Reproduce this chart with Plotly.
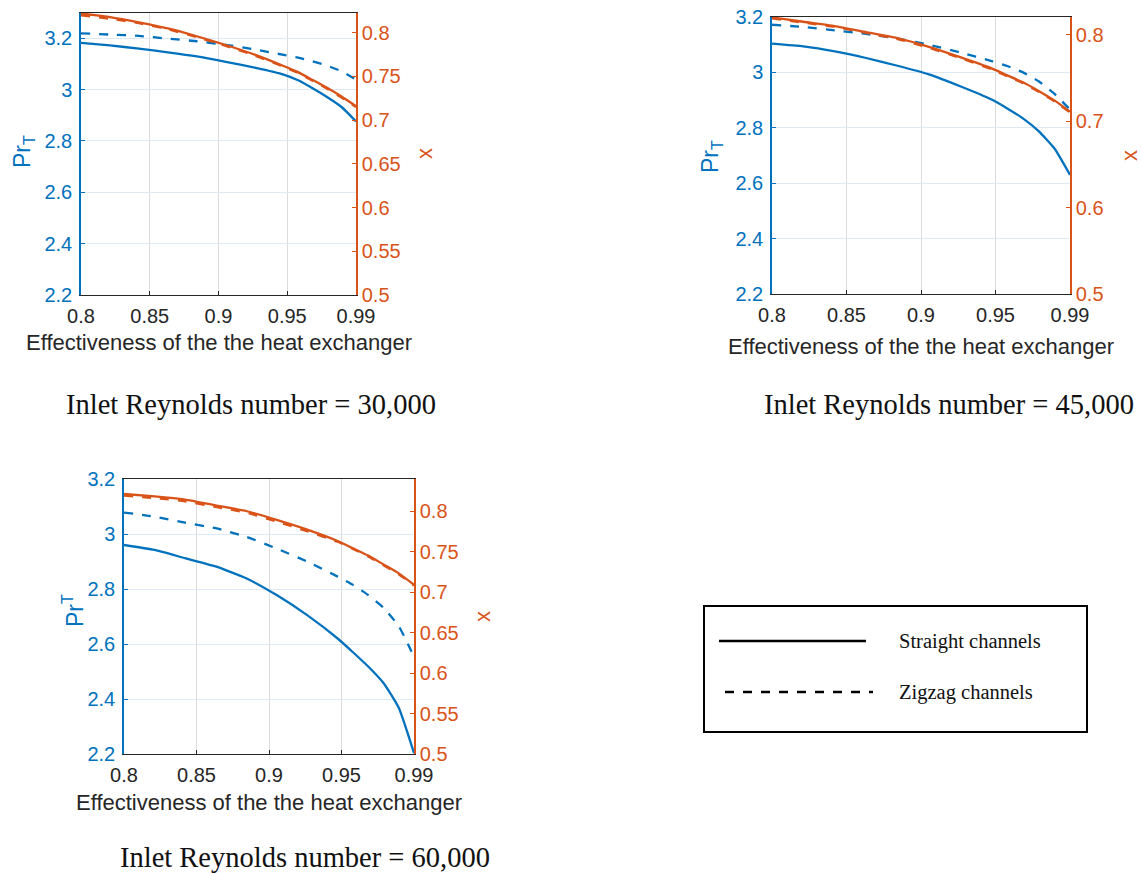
import plotly.graph_objects as go

W, H = 1141, 873

# ---------------- data ----------------
effectiveness = [0.80, 0.82, 0.84, 0.86, 0.88, 0.90, 0.92, 0.94, 0.95, 0.96, 0.97, 0.98, 0.99]
x_ticktext = ["0.8", "0.85", "0.9", "0.95", "0.99"]

# Re = 30,000
pr_straight_30k = [3.182, 3.172, 3.159, 3.145, 3.129, 3.108, 3.085, 3.058, 3.036, 3.005, 2.971, 2.932, 2.876]
pr_zigzag_30k   = [3.219, 3.214, 3.209, 3.198, 3.188, 3.174, 3.156, 3.135, 3.124, 3.110, 3.093, 3.071, 3.039]
x_straight_30k  = [0.822, 0.818, 0.812, 0.805, 0.796, 0.786, 0.775, 0.762, 0.755, 0.746, 0.737, 0.727, 0.716]
x_zigzag_30k    = [0.820, 0.816, 0.811, 0.804, 0.795, 0.785, 0.774, 0.761, 0.754, 0.745, 0.736, 0.726, 0.715]

# Re = 45,000
pr_straight_45k = [3.104, 3.094, 3.076, 3.052, 3.024, 2.993, 2.950, 2.902, 2.870, 2.834, 2.788, 2.726, 2.630]
pr_zigzag_45k   = [3.172, 3.164, 3.152, 3.139, 3.122, 3.100, 3.072, 3.041, 3.023, 3.000, 2.968, 2.923, 2.866]
x_straight_45k  = [0.820, 0.815, 0.810, 0.803, 0.796, 0.786, 0.774, 0.761, 0.753, 0.745, 0.735, 0.724, 0.711]
x_zigzag_45k    = [0.819, 0.814, 0.809, 0.802, 0.795, 0.785, 0.773, 0.760, 0.752, 0.744, 0.734, 0.723, 0.710]

# Re = 60,000
pr_straight_60k = [2.960, 2.942, 2.912, 2.882, 2.839, 2.778, 2.705, 2.620, 2.570, 2.518, 2.458, 2.368, 2.203]
pr_zigzag_60k   = [3.078, 3.063, 3.041, 3.021, 2.990, 2.947, 2.900, 2.845, 2.815, 2.778, 2.732, 2.665, 2.554]
x_straight_60k  = [0.821, 0.818, 0.814, 0.807, 0.800, 0.789, 0.777, 0.763, 0.754, 0.745, 0.734, 0.723, 0.709]
x_zigzag_60k    = [0.819, 0.816, 0.812, 0.805, 0.798, 0.787, 0.775, 0.762, 0.753, 0.744, 0.733, 0.722, 0.708]

captions = ["Inlet Reynolds number = 30,000",
            "Inlet Reynolds number = 45,000",
            "Inlet Reynolds number = 60,000"]
legend_labels = ["Straight channels", "Zigzag channels"]

# ---------------- style ----------------
BLUE = "#0072BD"
ORANGE = "#D95319"
DARK = "#262626"
SANS = "Liberation Sans, Arial, sans-serif"
SERIF = "Liberation Serif, Times New Roman, serif"

def px(xp):
    return xp / W

def py(yp):
    return 1 - yp / H

panels = [
    dict(pr_s=pr_straight_30k, pr_z=pr_zigzag_30k, x_s=x_straight_30k, x_z=x_zigzag_30k,
         box=(81, 13, 356, 295), yr=[2.2, 3.298], y2r=[0.5, 0.8226], ytitle="Pr<sub>T</sub>",
         ytitle_pos=(23, 152), x2title_pos=(424, 154), xtitle_pos=(219, 343),
         caption_pos=(251, 404)),
    dict(pr_s=pr_straight_45k, pr_z=pr_zigzag_45k, x_s=x_straight_45k, x_z=x_zigzag_45k,
         box=(772, 17, 1070, 294), yr=[2.2, 3.2], y2r=[0.5, 0.8205], ytitle="Pr<sub>T</sub>",
         ytitle_pos=(711, 157), x2title_pos=(1129, 156), xtitle_pos=(921, 347),
         caption_pos=(949, 404)),
    dict(pr_s=pr_straight_60k, pr_z=pr_zigzag_60k, x_s=x_straight_60k, x_z=x_zigzag_60k,
         box=(124, 479, 414, 754), yr=[2.2, 3.2], y2r=[0.5, 0.8395], ytitle="Pr<sup>T</sup>",
         ytitle_pos=(73, 611), x2title_pos=(482, 617), xtitle_pos=(269, 802),
         caption_pos=(305, 857)),
]

fig = go.Figure()
annotations = []
layout = {}

xtickvals = [0.80 + i * 0.19 / 4 for i in range(5)]
LW = 2.3

for i, p in enumerate(panels):
    n = i + 1
    xa = "x" if n == 1 else f"x{n}"
    ya_l = f"y{2*n-1}" if n > 1 else "y"
    ya_r = f"y{2*n}"
    xkey = "xaxis" if n == 1 else f"xaxis{n}"
    ylkey = "yaxis" if n == 1 else f"yaxis{2*n-1}"
    yrkey = f"yaxis{2*n}"
    x0, y0, x1, y1 = p["box"]

    layout[xkey] = dict(domain=[px(x0), px(x1)], anchor=ya_l, range=[0.8, 0.99],
                        tickvals=xtickvals, ticktext=x_ticktext, automargin=False,
                        showgrid=True, gridcolor="#dcdcdc", gridwidth=1,
                        showline=True, linecolor=DARK, linewidth=1, mirror=True,
                        ticks="inside", ticklen=4, tickcolor=DARK, ticklabelstandoff=3,
                        tickfont=dict(family=SANS, size=20, color=DARK),
                        zeroline=False, fixedrange=True)
    layout[ylkey] = dict(domain=[py(y1), py(y0)], anchor=xa, range=p["yr"], automargin=False,
                         tickvals=[2.2, 2.4, 2.6, 2.8, 3.0, 3.2],
                         ticktext=["2.2", "2.4", "2.6", "2.8", "3", "3.2"],
                         showgrid=True, gridcolor="#dde9f5", gridwidth=1,
                         showline=True, linecolor=BLUE, linewidth=1.5,
                         ticks="inside", ticklen=4, tickcolor=BLUE, ticklabelstandoff=3,
                         tickfont=dict(family=SANS, size=20, color=BLUE),
                         zeroline=False, fixedrange=True)
    layout[yrkey] = dict(overlaying=ya_l, side="right", anchor=xa, range=p["y2r"], automargin=False,
                         tickvals=[0.5, 0.55, 0.6, 0.65, 0.7, 0.75, 0.8] if n != 2 else [0.5, 0.6, 0.7, 0.8],
                         showgrid=False, showline=True, linecolor=ORANGE, linewidth=1.5,
                         ticks="inside", ticklen=4, tickcolor=ORANGE,
                         tickfont=dict(family=SANS, size=20, color=ORANGE),
                         zeroline=False, fixedrange=True)

    fig.add_trace(go.Scatter(x=effectiveness, y=p["pr_z"], xaxis=xa, yaxis=ya_l, mode="lines",
                             line=dict(color=BLUE, width=LW, dash="dash", shape="spline", smoothing=0.5),
                             showlegend=False))
    fig.add_trace(go.Scatter(x=effectiveness, y=p["pr_s"], xaxis=xa, yaxis=ya_l, mode="lines",
                             line=dict(color=BLUE, width=LW, shape="spline", smoothing=0.5),
                             showlegend=False))
    fig.add_trace(go.Scatter(x=effectiveness, y=p["x_z"], xaxis=xa, yaxis=ya_r, mode="lines",
                             line=dict(color=ORANGE, width=LW, dash="dash", shape="spline", smoothing=0.5),
                             showlegend=False))
    fig.add_trace(go.Scatter(x=effectiveness, y=p["x_s"], xaxis=xa, yaxis=ya_r, mode="lines",
                             line=dict(color=ORANGE, width=LW, shape="spline", smoothing=0.5),
                             showlegend=False))

    tx, ty = p["ytitle_pos"]
    annotations.append(dict(x=px(tx), y=py(ty), xref="paper", yref="paper", text=p["ytitle"],
                            textangle=-90, showarrow=False, xanchor="center", yanchor="middle",
                            font=dict(family=SANS, size=23, color=BLUE)))
    tx, ty = p["x2title_pos"]
    annotations.append(dict(x=px(tx), y=py(ty), xref="paper", yref="paper", text="x",
                            textangle=-90, showarrow=False, xanchor="center", yanchor="middle",
                            font=dict(family=SANS, size=22, color=ORANGE)))
    tx, ty = p["xtitle_pos"]
    annotations.append(dict(x=px(tx), y=py(ty), xref="paper", yref="paper",
                            text="Effectiveness of the the heat exchanger",
                            showarrow=False, xanchor="center", yanchor="middle",
                            font=dict(family=SANS, size=22, color=DARK)))
    tx, ty = p["caption_pos"]
    annotations.append(dict(x=px(tx), y=py(ty), xref="paper", yref="paper", text=captions[i],
                            showarrow=False, xanchor="center", yanchor="middle",
                            font=dict(family=SERIF, size=28.5, color="#111111")))

# legend box (drawn manually)
shapes = [
    dict(type="rect", xref="paper", yref="paper", x0=px(704), x1=px(1087), y0=py(732), y1=py(606),
         line=dict(color="black", width=2), fillcolor="rgba(0,0,0,0)"),
    dict(type="line", xref="paper", yref="paper", x0=px(719), x1=px(866), y0=py(641), y1=py(641),
         line=dict(color="black", width=2.5)),
    dict(type="line", xref="paper", yref="paper", x0=px(725), x1=px(873), y0=py(692), y1=py(692),
         line=dict(color="black", width=2.5, dash="dash")),
]
for lbl, ly in zip(legend_labels, [641, 692]):
    annotations.append(dict(x=px(897), y=py(ly), xref="paper", yref="paper", text=lbl,
                            showarrow=False, xanchor="left", yanchor="middle",
                            font=dict(family=SERIF, size=20.5, color="#111111")))

fig.update_layout(width=W, height=H, margin=dict(l=0, r=0, t=0, b=0, autoexpand=False),
                  paper_bgcolor="white", plot_bgcolor="white",
                  annotations=annotations, shapes=shapes, showlegend=False, **layout)

fig.write_html("out.html")
